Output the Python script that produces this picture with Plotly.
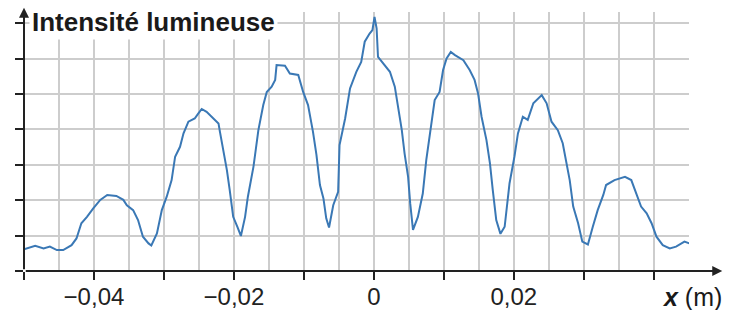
import plotly.graph_objects as go

# ---- data (x in m, intensity in grid units) ----
x_m = [-0.0500, -0.0496, -0.0484, -0.0472, -0.0463, -0.0453, -0.0444, -0.0432, -0.0425, -0.0418,
       -0.0410, -0.0401, -0.0391, -0.0381, -0.0368, -0.0358, -0.0353, -0.0344, -0.0337, -0.0330,
       -0.0322, -0.0318, -0.0310, -0.0303, -0.0296, -0.0289, -0.0284, -0.0277, -0.0272, -0.0265,
       -0.0256, -0.0251, -0.0246, -0.0239, -0.0230, -0.0222, -0.0220, -0.0215, -0.0210, -0.0206,
       -0.0201, -0.0195, -0.0190, -0.0184, -0.0180, -0.0172, -0.0165, -0.0158, -0.0153, -0.0146,
       -0.0141, -0.0139, -0.0127, -0.0120, -0.0108, -0.0101, -0.0094, -0.0087, -0.0082, -0.0077,
       -0.0072, -0.0068, -0.0064, -0.0058, -0.0051, -0.0049, -0.0041, -0.0034, -0.0025, -0.0018,
       -0.0013, -0.0006, -0.0002, 0.0001, 0.0004, 0.0006, 0.0013, 0.0023, 0.0030, 0.0035,
       0.0040, 0.0044, 0.0049, 0.0052, 0.0056, 0.0063, 0.0070, 0.0075, 0.0082, 0.0087,
       0.0094, 0.0099, 0.0104, 0.0110, 0.0116, 0.0120, 0.0128, 0.0137, 0.0144, 0.0149,
       0.0154, 0.0161, 0.0166, 0.0170, 0.0175, 0.0181, 0.0187, 0.0194, 0.0201, 0.0206,
       0.0213, 0.0220, 0.0228, 0.0240, 0.0247, 0.0254, 0.0263, 0.0270, 0.0275, 0.0280,
       0.0285, 0.0292, 0.0298, 0.0306, 0.0313, 0.0320, 0.0328, 0.0332, 0.0344, 0.0359,
       0.0368, 0.0375, 0.0382, 0.0390, 0.0397, 0.0404, 0.0413, 0.0423, 0.0432, 0.0444,
       0.0451]
intensity = [0.61, 0.64, 0.71, 0.64, 0.69, 0.59, 0.59, 0.73, 0.92, 1.35,
             1.53, 1.77, 2.01, 2.15, 2.12, 2.01, 1.86, 1.72, 1.44, 0.97,
             0.78, 0.72, 1.06, 1.72, 2.10, 2.57, 3.23, 3.51, 3.89, 4.22,
             4.31, 4.45, 4.58, 4.50, 4.31, 4.17, 3.94, 3.42, 2.85, 2.29,
             1.53, 1.25, 0.99, 1.53, 2.10, 2.95, 3.98, 4.69, 5.06, 5.21,
             5.40, 5.82, 5.80, 5.58, 5.54, 5.06, 4.69, 3.94, 3.28, 2.43,
             2.05, 1.49, 1.23, 1.86, 2.24, 3.56, 4.31, 5.16, 5.63, 5.91,
             6.48, 6.71, 6.81, 7.18, 6.86, 6.05, 5.87, 5.63, 5.21, 4.64,
             3.98, 3.32, 2.66, 1.91, 1.16, 1.53, 2.19, 3.14, 4.08, 4.83,
             5.06, 5.68, 6.01, 6.19, 6.10, 6.05, 5.96, 5.68, 5.40, 5.02,
             4.36, 3.70, 3.04, 2.29, 1.44, 1.05, 1.25, 2.48, 3.23, 3.89,
             4.36, 4.27, 4.74, 4.97, 4.74, 4.22, 3.98, 3.61, 3.14, 2.57,
             1.82, 1.35, 0.83, 0.75, 1.25, 1.72, 2.15, 2.43, 2.57, 2.66,
             2.57, 2.19, 1.82, 1.63, 1.35, 0.97, 0.73, 0.64, 0.69, 0.83,
             0.78]

x_tick_vals = [-0.05, -0.04, -0.03, -0.02, -0.01, 0.0, 0.01, 0.02, 0.03, 0.04]
x_tick_text = ["", "\u22120,04", "", "\u22120,02", "", "0", "", "0,02", "", ""]
x_grid_vals = [-0.045, -0.035, -0.025, -0.015, -0.005, 0.005, 0.015, 0.025, 0.035, 0.045]
y_tick_vals = [0, 1, 2, 3, 4, 5, 6, 7]

y_title = "Intensité lumineuse"
x_title = "<b><i>x</i></b> (m)"

AXIS_COLOR = "#222222"
GRID_COLOR = "#cdcdcd"
LINE_COLOR = "#3a78b5"
FONT = "Liberation Sans, Arial, sans-serif"

fig = go.Figure()
fig.add_trace(go.Scatter(x=x_m, y=intensity, mode="lines",
                         line=dict(color=LINE_COLOR, width=2),
                         hoverinfo="skip", showlegend=False))

fig.update_layout(
    width=735, height=310,
    margin=dict(l=24, r=46, t=12, b=39),
    paper_bgcolor="white", plot_bgcolor="white",
    font=dict(family=FONT, color=AXIS_COLOR, size=24),
    xaxis=dict(
        range=[-0.05, 0.04505], tickmode="array", tickvals=x_tick_vals, ticktext=x_tick_text,
        ticks="outside", ticklen=8, tickwidth=2, tickcolor=AXIS_COLOR,
        ticklabelstandoff=-4,
        showgrid=True, gridcolor=GRID_COLOR, gridwidth=1.6,
        minor=dict(tickmode="array", tickvals=x_grid_vals, showgrid=True,
                   gridcolor=GRID_COLOR, gridwidth=1.6, ticks=""),
        zeroline=False, showline=False, automargin=False,
        tickfont=dict(size=24, family=FONT, color=AXIS_COLOR),
    ),
    yaxis=dict(
        range=[0, 7.32], tickmode="array", tickvals=y_tick_vals,
        ticktext=[""] * len(y_tick_vals),
        ticks="outside", ticklen=8, tickwidth=2, tickcolor=AXIS_COLOR,
        showgrid=True, gridcolor=GRID_COLOR, gridwidth=1.6,
        zeroline=False, showline=False, automargin=False,
    ),
)

# axis arrows
fig.add_annotation(xref="paper", yref="paper", x=1.05, y=0, ax=-698, ay=0,
                   axref="pixel", ayref="pixel", text="", showarrow=True,
                   arrowhead=2, arrowsize=1, arrowwidth=2, arrowcolor=AXIS_COLOR)
fig.add_annotation(xref="paper", yref="paper", x=0, y=1.016, ax=0, ay=263,
                   axref="pixel", ayref="pixel", text="", showarrow=True,
                   arrowhead=2, arrowsize=1, arrowwidth=2, arrowcolor=AXIS_COLOR)

# axis titles
fig.add_annotation(xref="paper", yref="paper", x=0.008, y=0.962, xanchor="left", yanchor="middle",
                   text="<b>" + y_title + "</b>", showarrow=False, bgcolor="white",
                   font=dict(size=26, family=FONT, color="#1a1a1a"), borderpad=2)
fig.add_annotation(xref="paper", yref="paper", x=1.0526, y=-0.1, xanchor="right", yanchor="middle",
                   text=x_title, showarrow=False,
                   font=dict(size=25, family=FONT, color="#1a1a1a"))

fig.write_html("out.html", config={"displayModeBar": False},
               post_script="document.body.style.margin='0';document.body.style.overflow='hidden';")
